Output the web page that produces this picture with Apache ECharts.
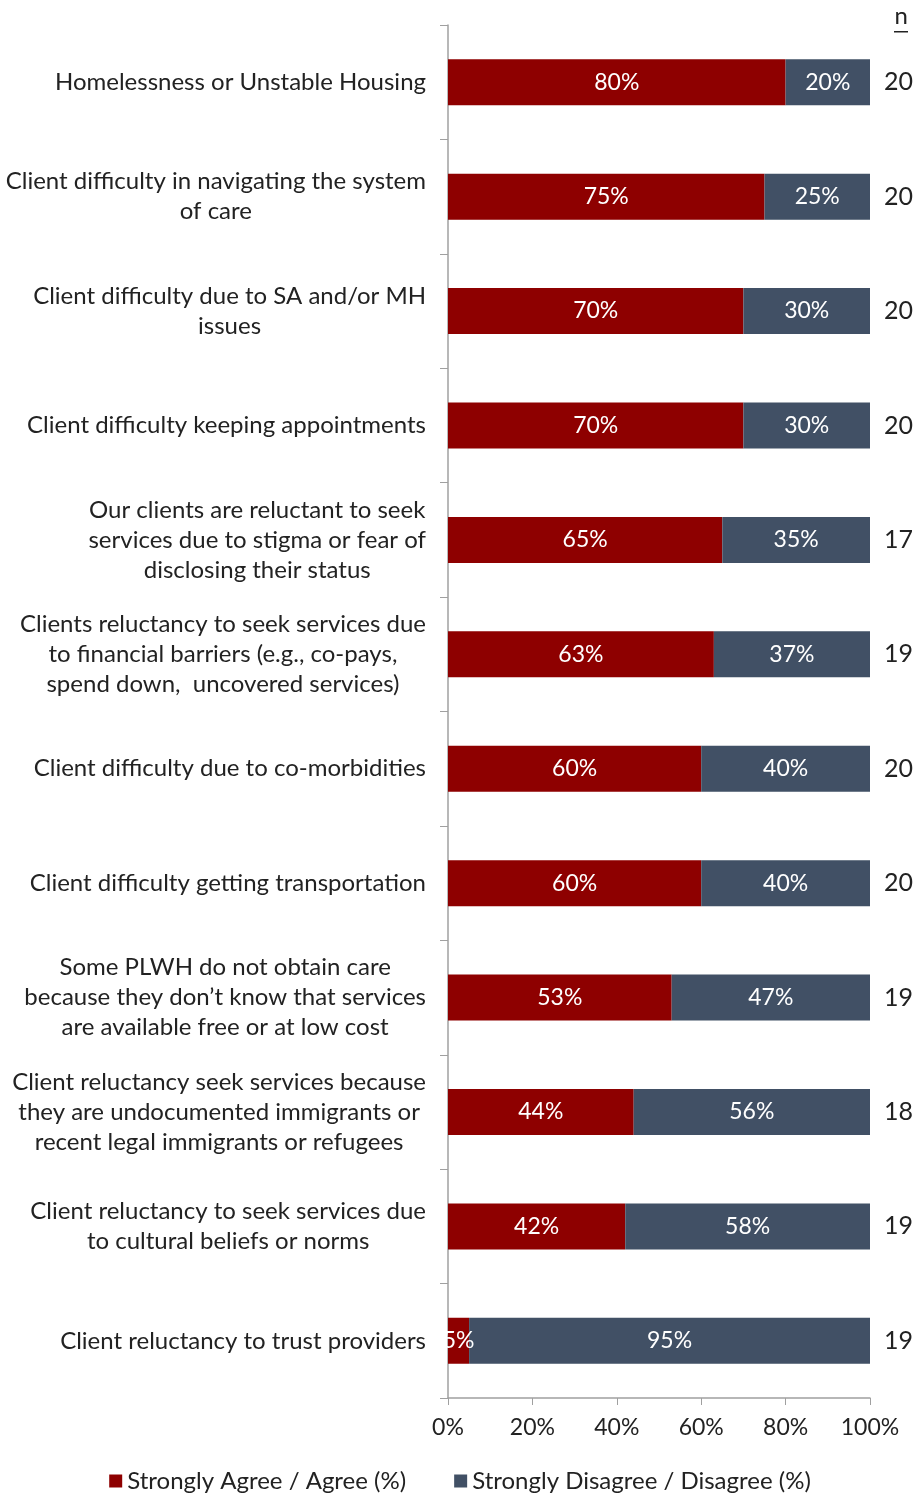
<!DOCTYPE html>
<html>
<head>
<meta charset="utf-8">
<script src="https://cdn.jsdelivr.net/npm/echarts@6/dist/echarts.min.js"></script>
<style>html,body{margin:0;padding:0;background:#fff}#c{width:920px;height:1500px}</style>
</head>
<body>
<div id="c"></div>
<script>
var categories = [
  "Homelessness or Unstable Housing",
  "Client difficulty in navigating the system\nof care",
  "Client difficulty due to SA and/or MH\nissues",
  "Client difficulty keeping appointments",
  "Our clients are reluctant to seek\nservices due to stigma or fear of\ndisclosing their status",
  "Clients reluctancy to seek services due\nto financial barriers (e.g., co-pays,\nspend down,  uncovered services)",
  "Client difficulty due to co-morbidities",
  "Client difficulty getting transportation",
  "Some PLWH do not obtain care\nbecause they don\u2019t know that services\nare available free or at low cost",
  "Client reluctancy seek services because\nthey are undocumented immigrants or\nrecent legal immigrants or refugees",
  "Client reluctancy to seek services due\nto cultural beliefs or norms",
  "Client reluctancy to trust providers"
];
var agree = [80, 75, 70, 70, 65, 63, 60, 60, 53, 44, 42, 5];
var disagree = [20, 25, 30, 30, 35, 37, 40, 40, 47, 56, 58, 95];
var nValues = ["20", "20", "20", "20", "17", "19", "20", "20", "19", "18", "19", "19"];
var xTicks = [0, 20, 40, 60, 80, 100];
var seriesNames = ["Strongly Agree / Agree (%)", "Strongly Disagree / Disagree (%)"];

var FONT = "Lato, 'Noto Sans', sans-serif";
var chart = echarts.init(document.getElementById('c'), null, {renderer: 'canvas'});
var barLabel = {show: true, position: 'inside', color: '#fff', fontSize: 23, fontFamily: FONT, formatter: '{c}%'};
chart.setOption({
  animation: false,
  grid: {left: 448, right: 50, top: 25, bottom: 102},
  legend: {
    bottom: 2, left: 'center', itemWidth: 13, itemHeight: 13, itemGap: 48,
    icon: 'rect',
    textStyle: {fontSize: 24, fontFamily: FONT, color: '#222'},
    data: seriesNames
  },
  graphic: [
    {type: 'text', right: 12, top: 4, style: {text: 'n', fontSize: 24, fontFamily: FONT, fill: '#222'}},
    {type: 'rect', right: 12, top: 31, shape: {width: 14, height: 1.5}, style: {fill: '#222'}}
  ],
  xAxis: {
    type: 'value', min: xTicks[0], max: xTicks[xTicks.length - 1], interval: 20,
    axisLine: {show: true, lineStyle: {color: '#a0a0a0', width: 1.5}},
    axisTick: {show: true, length: 7, lineStyle: {color: '#a0a0a0'}},
    splitLine: {show: false},
    axisLabel: {formatter: '{value}%', fontSize: 23, fontFamily: FONT, color: '#222', margin: 18}
  },
  yAxis: [{
    type: 'category', inverse: true, data: categories,
    axisLine: {show: true, lineStyle: {color: '#a0a0a0', width: 1.5}},
    axisTick: {show: true, length: 8, lineStyle: {color: '#a0a0a0'}},
    axisLabel: {
      margin: 22, align: 'right', color: '#222',
      formatter: function (v) {
        return v.split('\n').map(function (l) { return '{c|' + l + '}'; }).join('\n');
      },
      rich: {c: {align: 'center', fontSize: 24, fontFamily: FONT, color: '#222', lineHeight: 30}}
    }
  }, {
    type: 'category', inverse: true, position: 'right', data: nValues,
    axisLine: {show: false}, axisTick: {show: false},
    axisLabel: {margin: 14, fontSize: 25, fontFamily: FONT, color: '#222'}
  }],
  series: [{
    name: seriesNames[0], type: 'bar', stack: 'total', data: agree, barWidth: 46,
    itemStyle: {color: '#8e0000'}, label: barLabel
  }, {
    name: seriesNames[1], type: 'bar', stack: 'total', data: disagree, barWidth: 46,
    itemStyle: {color: '#415065'}, label: barLabel
  }]
});
</script>
</body>
</html>
